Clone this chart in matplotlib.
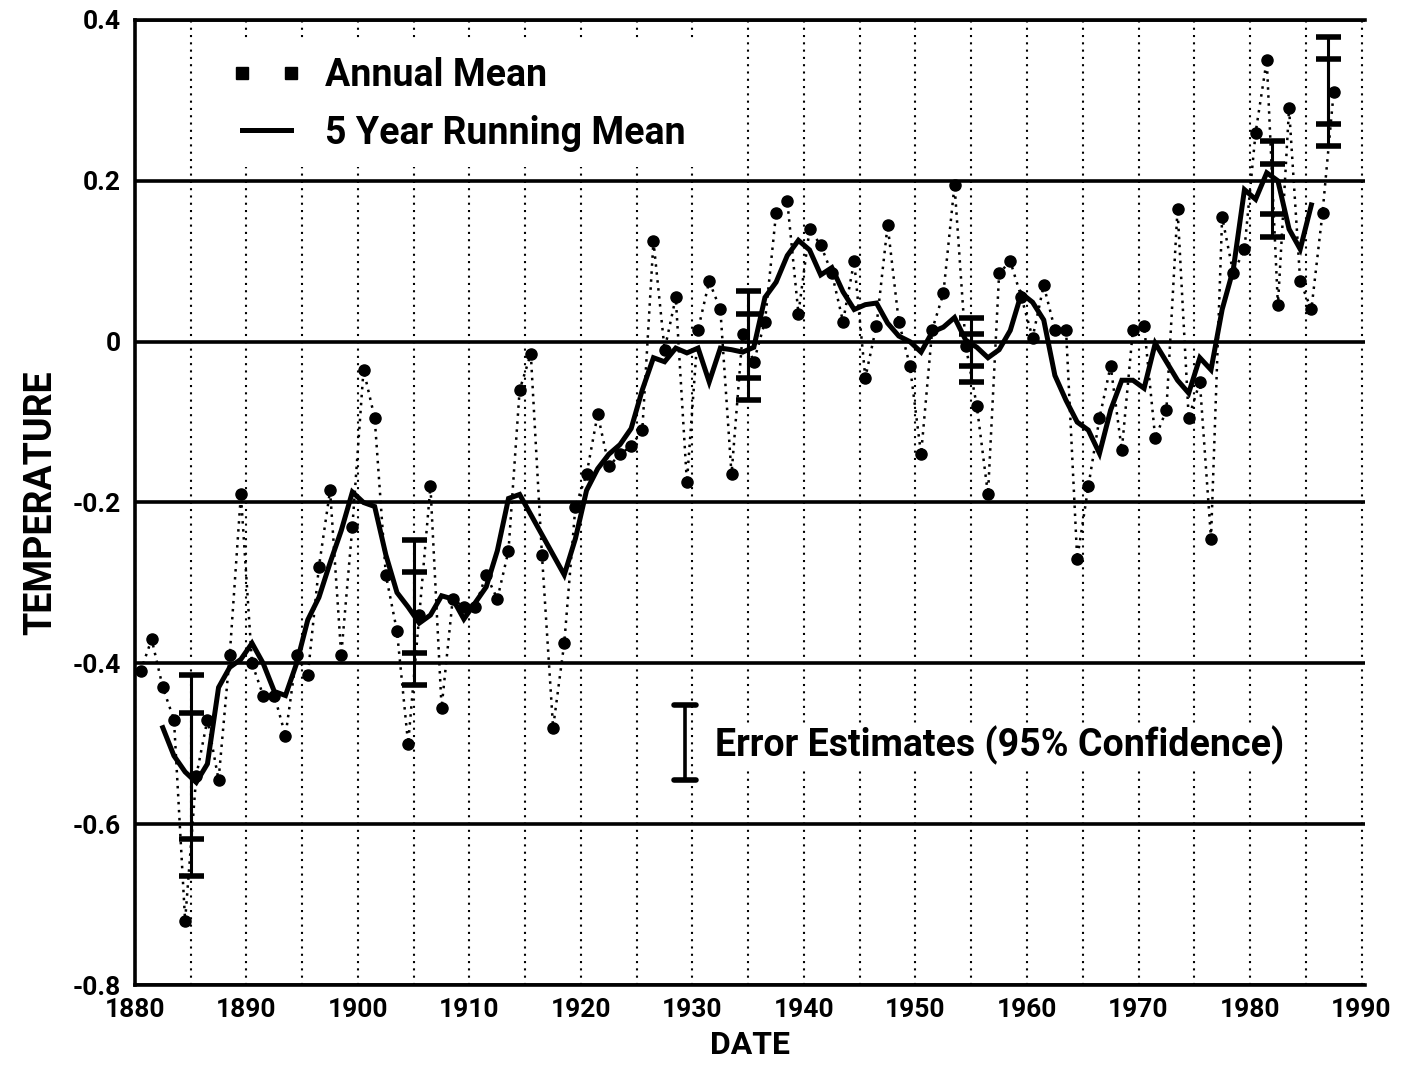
import numpy as np
import matplotlib.pyplot as plt
from matplotlib.lines import Line2D

# annual means 1880-1987
years = np.arange(1880, 1988)
annual = [-0.41, -0.37, -0.43, -0.47, -0.72, -0.54, -0.47, -0.545, -0.39, -0.19,
          -0.40, -0.44, -0.44, -0.49, -0.39, -0.415, -0.28, -0.185, -0.39, -0.23,
          -0.035, -0.095, -0.29, -0.36, -0.50, -0.34, -0.18, -0.455, -0.32, -0.33,
          -0.33, -0.29, -0.32, -0.26, -0.06, -0.015, -0.265, -0.48, -0.375, -0.205,
          -0.165, -0.09, -0.155, -0.14, -0.13, -0.11, 0.125, -0.01, 0.055, -0.175,
          0.015, 0.075, 0.04, -0.165, 0.01, -0.025, 0.025, 0.16, 0.175, 0.035,
          0.14, 0.12, 0.085, 0.025, 0.10, -0.045, 0.02, 0.145, 0.025, -0.03,
          -0.14, 0.015, 0.06, 0.195, -0.005, -0.08, -0.19, 0.085, 0.10, 0.055,
          0.005, 0.07, 0.015, 0.015, -0.27, -0.18, -0.095, -0.03, -0.135, 0.015,
          0.02, -0.12, -0.085, 0.165, -0.095, -0.05, -0.245, 0.155, 0.085, 0.115,
          0.26, 0.35, 0.045, 0.29, 0.075, 0.04, 0.16, 0.31]

# 5 year running mean 1882-1985
rm_years = np.arange(1882, 1986)
running = [-0.48, -0.515, -0.535, -0.548, -0.525, -0.43, -0.405, -0.395,
           -0.375, -0.40, -0.435, -0.44, -0.40, -0.346, -0.318, -0.275, -0.235, -0.187,
           -0.20, -0.205, -0.265, -0.312, -0.33, -0.35, -0.34, -0.316, -0.32, -0.345,
           -0.325, -0.305, -0.26, -0.195, -0.19, -0.215, -0.24, -0.265, -0.29, -0.245,
           -0.185, -0.158, -0.14, -0.128, -0.108, -0.06, -0.02, -0.025, -0.008, -0.014,
           -0.008, -0.05, -0.008, -0.01, -0.013, -0.007, 0.055, 0.074, 0.107, 0.126,
           0.114, 0.083, 0.092, 0.062, 0.04, 0.046, 0.048, 0.023, 0.007, 0.0,
           -0.013, 0.012, 0.018, 0.03, 0.002, -0.007, -0.02, -0.01, 0.014, 0.06,
           0.049, 0.027, -0.042, -0.073, -0.10, -0.11, -0.139, -0.085, -0.048, -0.048,
           -0.058, -0.002, -0.025, -0.048, -0.064, -0.02, -0.035, 0.04, 0.09, 0.189,
           0.177, 0.21, 0.20, 0.14, 0.115, 0.17]

# error estimates (95% confidence)
err_years = [1885, 1905, 1935, 1955, 1982, 1987]
err_center = [-0.54, -0.337, -0.005, -0.01, 0.19, 0.311]
err_inner = [0.078, 0.05, 0.04, 0.02, 0.031, 0.04]
err_outer = [0.125, 0.09, 0.068, 0.04, 0.06, 0.068]

x_labels = ['1880', '1890', '1900', '1910', '1920', '1930', '1940',
            '1950', '1960', '1970', '1980', '1990']
y_ticks = [-0.8, -0.6, -0.4, -0.2, 0, 0.2, 0.4]
y_labels = ['-0.8', '-0.6', '-0.4', '-0.2', '0', '0.2', '0.4']

font = ['Roboto', 'DejaVu Sans']
narrow = ['Liberation Sans Narrow', 'Roboto', 'DejaVu Sans']

fig = plt.figure(figsize=(14.1, 10.68), dpi=100)
ax = fig.add_axes([0.0957, 0.0777, 0.8723, 0.9036])

# annual means: dotted connector + dots, plotted mid-year
ax.plot(years + 0.5, annual, color='k', lw=1.8, ls=(0, (1, 2.2)), zorder=3)
ax.plot(years + 0.5, annual, 'o', color='k', ms=8, zorder=4)

ax.plot(rm_years + 0.5, running, color='k', lw=3.6, zorder=5,
        solid_joinstyle='miter')

for err in (err_outer, err_inner):
    ax.errorbar(err_years, err_center, yerr=err, fmt='none', ecolor='k',
                elinewidth=2.2, capsize=9, capthick=4, zorder=6)

ax.set_xlim(1880, 1990.3)
ax.set_ylim(-0.8, 0.4)
ax.set_xticks(range(1880, 1991, 10))
ax.set_xticklabels(x_labels, fontsize=19, fontweight='bold', family=font)
ax.set_xticks(np.arange(1885, 1991, 10), minor=True)
ax.set_yticks(y_ticks)
ax.set_yticklabels(y_labels, fontsize=19, fontweight='bold', family=font)
ax.tick_params(which='both', length=0)
ax.tick_params(axis='y', pad=10)
ax.tick_params(axis='x', pad=9)

ax.set_axisbelow(True)
ax.grid(axis='y', color='k', lw=2.6)
ax.grid(axis='x', which='both', color='k', lw=1.5, ls=(0, (1, 2.5)))
for side in ('left', 'bottom', 'top'):
    ax.spines[side].set_linewidth(2.6)
ax.spines['right'].set_visible(False)

ax.set_xlabel('DATE', fontsize=23, fontweight='bold', family=narrow, labelpad=6)
ax.set_ylabel('TEMPERATURE', fontsize=27, fontweight='bold', family=narrow, labelpad=10)

handles = [Line2D([], [], ls='none', marker='s', ms=8, color='k'),
           Line2D([], [], color='k', lw=3.6)]
leg = ax.legend(handles, ['Annual Mean', '5 Year Running Mean'],
                loc='upper left', bbox_to_anchor=(0.06, 0.985), numpoints=2,
                handlelength=1.9, handletextpad=0.6, labelspacing=0.55,
                prop={'family': font, 'weight': 'bold', 'size': 27},
                frameon=True, facecolor='white', edgecolor='none', framealpha=1,
                borderaxespad=0.2)
leg.set_zorder(7)

# error estimate key
ax.plot([0.447, 0.447], [0.212, 0.290], transform=ax.transAxes, color='k', lw=2.6)
for yy in (0.212, 0.290):
    ax.plot([0.438, 0.456], [yy, yy], transform=ax.transAxes, color='k', lw=4,
            solid_capstyle='round')
ax.text(0.472, 0.248, 'Error Estimates (95% Confidence)', transform=ax.transAxes,
        va='center', ha='left', fontsize=27, fontweight='bold', family=font,
        bbox=dict(facecolor='white', edgecolor='none', pad=2), zorder=7)

fig.savefig('out.png', dpi=100)
